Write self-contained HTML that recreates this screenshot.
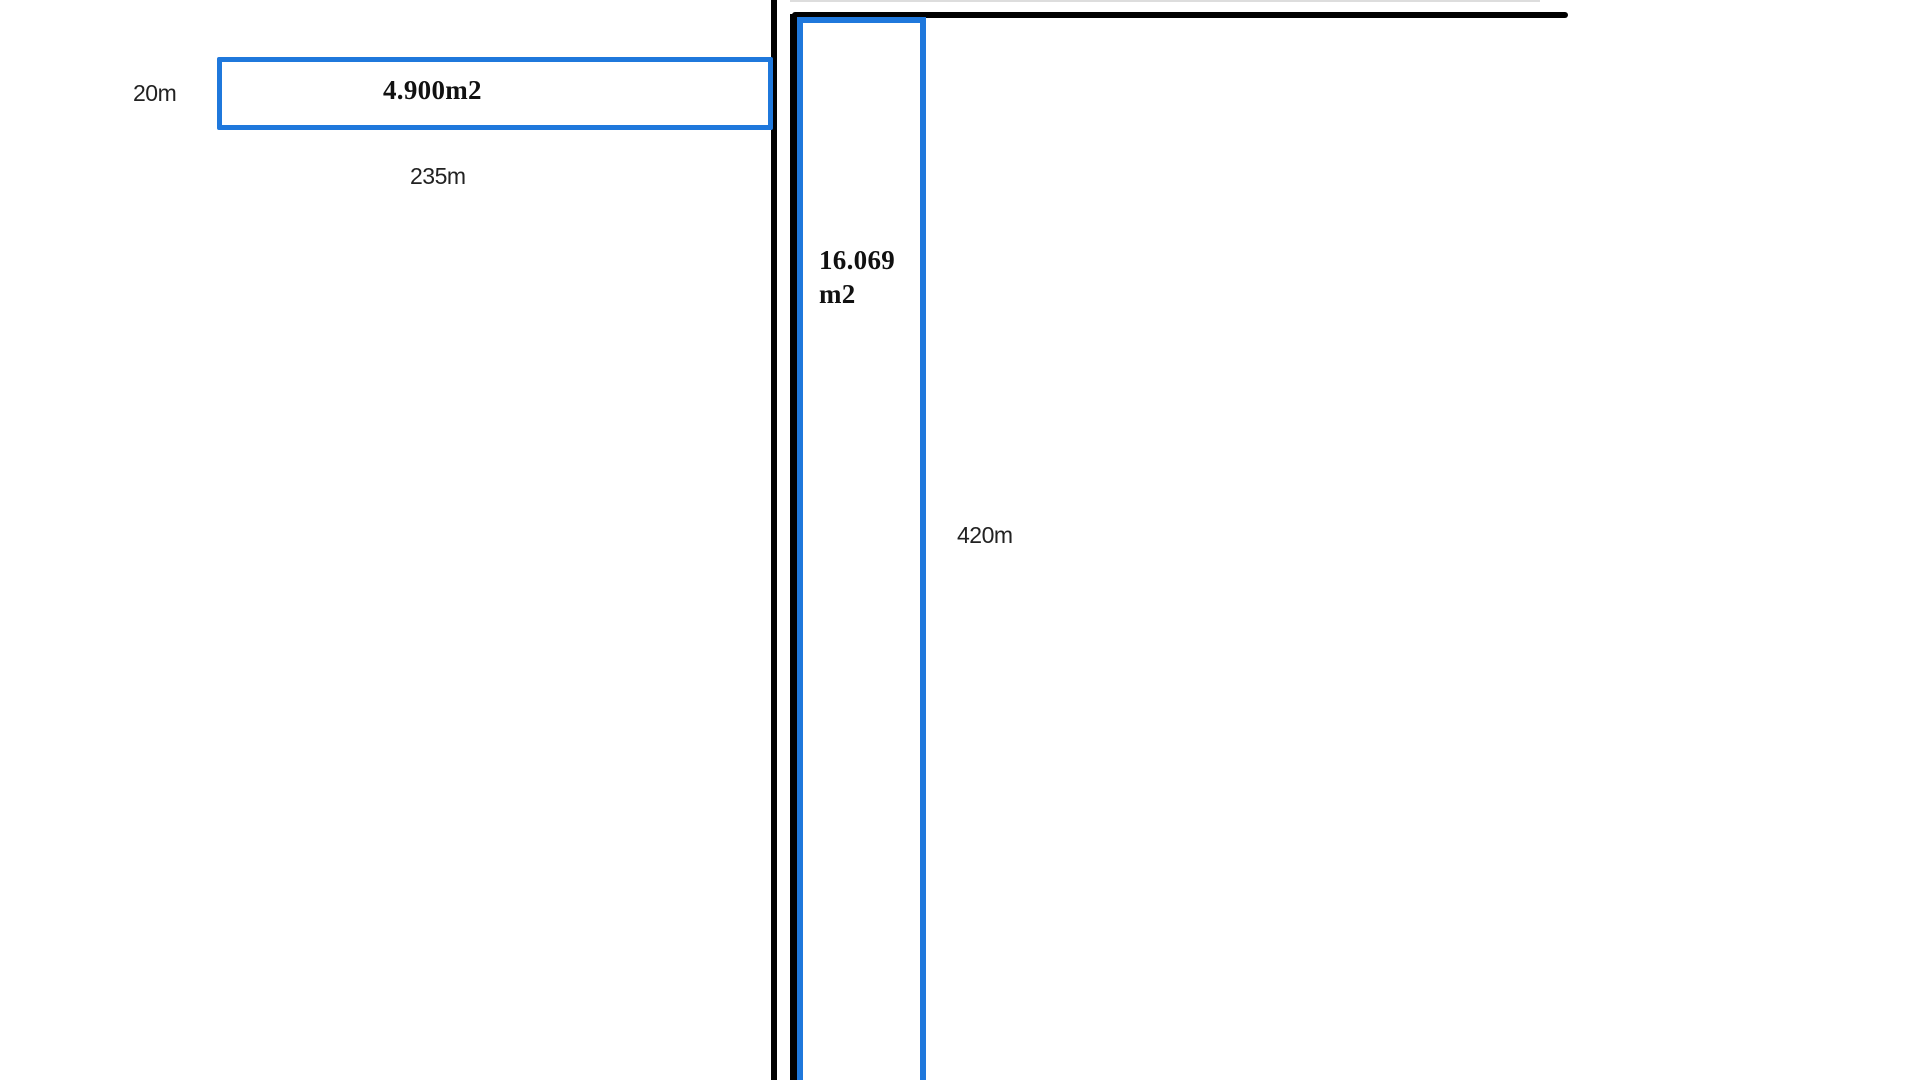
<!DOCTYPE html>
<html><head><style>
html,body{margin:0;padding:0;background:#fff;width:1920px;height:1080px;overflow:hidden;position:relative}
.a{position:absolute}
.t{position:absolute;font-family:"Liberation Sans",sans-serif;font-size:23px;color:#222;line-height:1;letter-spacing:-0.5px}
.b{position:absolute;font-family:"Liberation Serif",serif;font-weight:bold;font-size:27px;color:#111;line-height:1;letter-spacing:0.3px}
</style></head><body>
<div class="a" style="left:790px;top:0;width:750px;height:2px;background:#ddd"></div>
<div class="a" style="left:771px;top:0;width:6px;height:1080px;background:#000"></div>
<div class="a" style="left:792px;top:12px;width:776px;height:6px;background:#000;border-radius:3px"></div>
<div class="a" style="left:790px;top:14px;width:7px;height:1066px;background:#000"></div>
<div class="a" style="left:217px;top:57px;width:546px;height:63px;border:5px solid #1f78dc;border-radius:2px"></div>
<div class="a" style="left:797px;top:17px;width:117px;height:1057px;border:6px solid #1f78dc;border-bottom:none"></div>
<div class="t" style="left:133px;top:82px">20m</div>
<div class="b" style="left:383px;top:77px">4.900m2</div>
<div class="t" style="left:410px;top:165px">235m</div>
<div class="b" style="left:819px;top:247px">16.069</div>
<div class="b" style="left:819px;top:281px">m2</div>
<div class="t" style="left:957px;top:524px">420m</div>
</body></html>
